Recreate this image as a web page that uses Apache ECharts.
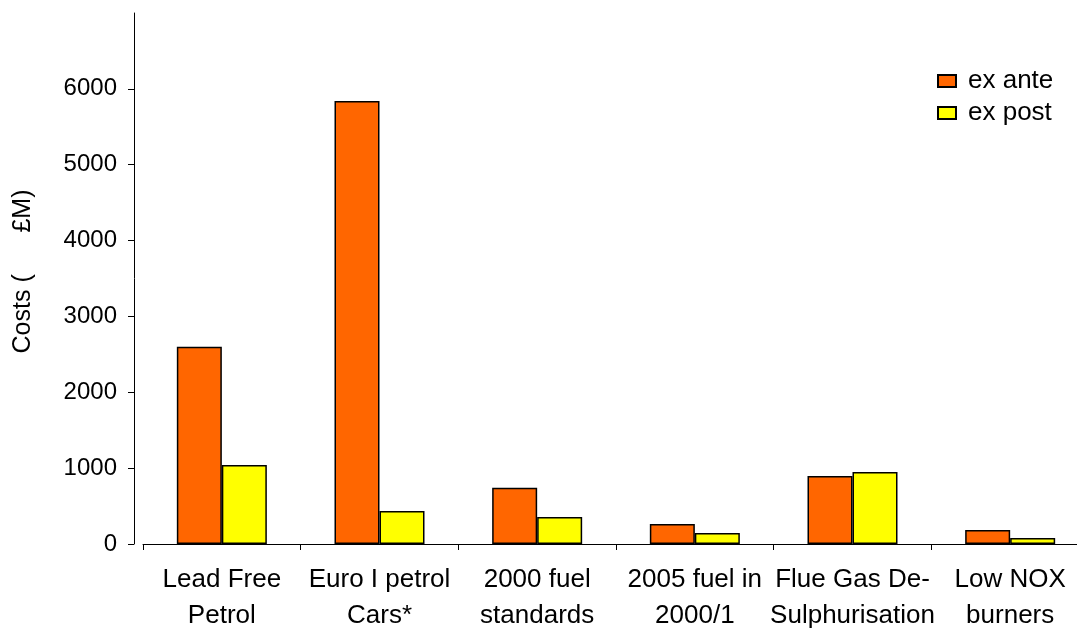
<!DOCTYPE html>
<html>
<head>
<meta charset="utf-8">
<script src="https://cdn.jsdelivr.net/npm/echarts@6/dist/echarts.min.js"></script>
<style>
html,body{margin:0;padding:0;background:#fff;overflow:hidden;}
#chart{width:1092px;height:629px;}
</style>
</head>
<body>
<div id="chart"></div>
<script>
const categories = ["Lead Free\nPetrol", "Euro I petrol\nCars*", "2000 fuel\nstandards", "2005 fuel in\n2000/1", "Flue Gas De-\nSulphurisation", "Low NOX\nburners"];
const exAnte = [2600, 5840, 740, 265, 895, 185];
const exPost = [1040, 435, 355, 145, 950, 80];
const yTicks = [0, 1000, 2000, 3000, 4000, 5000, 6000];

const chart = echarts.init(document.getElementById('chart'), null, {renderer: 'canvas'});
const font = '"Liberation Sans", Arial, sans-serif';
chart.setOption({
  animation: false,
  backgroundColor: '#ffffff',
  grid: {left: 143, top: 13, width: 946, height: 531, containLabel: false, outerBoundsMode: 'none'},
  legend: {
    orient: 'vertical',
    left: 937,
    top: 68,
    padding: 0,
    itemWidth: 18,
    itemHeight: 12,
    itemGap: 6,
    icon: 'rect',
    textStyle: {fontFamily: font, fontSize: 26, color: '#000', lineHeight: 24, padding: [0, 0, 0, 7]},
    data: ['ex ante', 'ex post']
  },
  xAxis: {
    type: 'category',
    data: categories,
    axisLine: {lineStyle: {color: '#000', width: 1}},
    axisTick: {show: true, length: 6, lineStyle: {color: '#000'}},
    axisLabel: {interval: 0, fontFamily: font, fontSize: 26, color: '#000', lineHeight: 36, margin: 18}
  },
  yAxis: {
    type: 'value',
    min: 0, max: 7000, interval: 1000,
    offset: 9,
    name: 'Costs (      £M)',
    nameLocation: 'middle',
    nameGap: 98,
    nameTextStyle: {fontFamily: font, fontSize: 25, color: '#000', padding: [0, 0, 0, 14]},
    axisLine: {show: true, lineStyle: {color: '#000', width: 1}},
    axisTick: {show: true, length: 6, inside: false, lineStyle: {color: '#000'}, customValues: yTicks},
    axisLabel: {fontFamily: font, fontSize: 24, color: '#000', margin: 17, customValues: yTicks,
      formatter: function (v) { return String(v); }},
    splitLine: {show: false}
  },
  series: [
    {
      name: 'ex ante', type: 'bar', data: exAnte, barWidth: 45, barGap: '0%',
      itemStyle: {color: '#FF6600', borderColor: '#000', borderWidth: 1.5}
    },
    {
      name: 'ex post', type: 'bar', data: exPost, barWidth: 45, barGap: '0%',
      itemStyle: {color: '#FFFF00', borderColor: '#000', borderWidth: 1.5}
    }
  ]
});
</script>
</body>
</html>
